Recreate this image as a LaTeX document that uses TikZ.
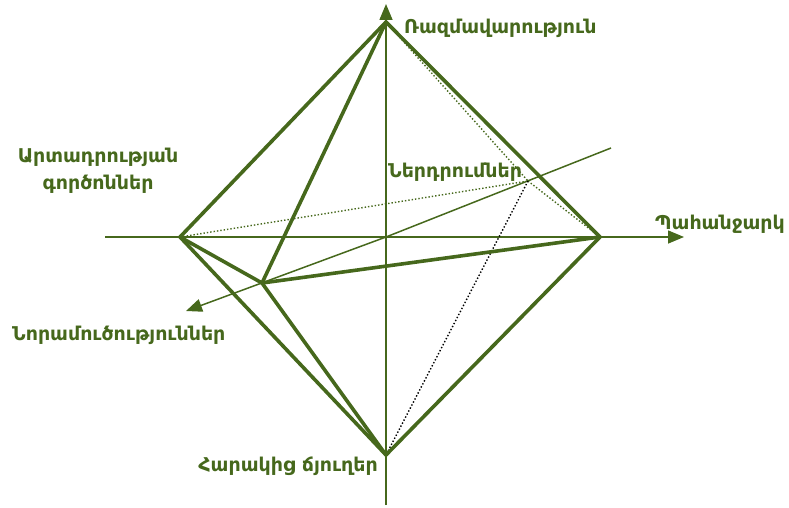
\documentclass[tikz,border=0pt]{standalone}
\usepackage{fontspec}
\setmainfont{DejaVu Sans}
\usetikzlibrary{arrows.meta}
\definecolor{dg}{HTML}{46681C}
\begin{document}
\begin{tikzpicture}[x=1pt,y=-1pt,
  thick edge/.style={draw=dg,line width=3.6pt,line join=round},
  axisline/.style={draw=dg,line width=1.5pt},
  axisarrow/.style={axisline,-{Triangle[length=16pt,width=13pt]}},
  dotline/.style={draw=dg,line width=1.4pt,dotted},
  blackdot/.style={draw=black,line width=1.4pt,dotted},
  lbl/.style={text=dg,font=\bfseries\fontsize{19}{27}\selectfont,inner sep=0pt}]
\useasboundingbox (0,0) rectangle (789,508);
% axis ends
\coordinate (vb) at (386,505);
\coordinate (vt) at (386,4);
\coordinate (hl) at (105,237);
\coordinate (hr) at (684,237);
\coordinate (dr) at (611,148);
\coordinate (dl) at (186,311);
% vertices
\coordinate (T) at (386,22);
\coordinate (L) at (180,237);
\coordinate (R) at (600,237);
\coordinate (B) at (386,455);
\coordinate (F) at (262,283);
\coordinate (K) at (528,181);
% axes
\draw[axisline] (vb) -- (386,237);
\draw[axisarrow] (386,237) -- (vt);
\draw[axisarrow] (hl) -- (hr);
\draw[axisline] (dr) -- (386,237);
\draw[axisarrow] (386,237) -- (dl);
% hidden edges
\draw[dotline] (L) -- (K);
\draw[dotline] (T) -- (K);
\draw[dotline] (K) -- (R);
\draw[blackdot] (K) -- (B);
% visible edges
\draw[thick edge] (T) -- (L) -- (B) -- (R) -- cycle;
\draw[thick edge] (T) -- (F) -- (B);
\draw[thick edge] (L) -- (F) -- (R);
% labels
\node[lbl,anchor=west] (strat) at (404,28) {Ռազմավարություն};
\node[lbl,align=center] (prod) at (98,171) {Արտադրության\\գործոններ};
\node[lbl,anchor=west] (inv) at (388,172) {Ներդրումներ};
\node[lbl,anchor=west] (dem) at (655,224) {Պահանջարկ};
\node[lbl,anchor=west] (innov) at (12,335) {Նորամուծություններ};
\node[lbl,anchor=east] (rel) at (378,466) {Հարակից ճյուղեր};
\end{tikzpicture}
\end{document}
